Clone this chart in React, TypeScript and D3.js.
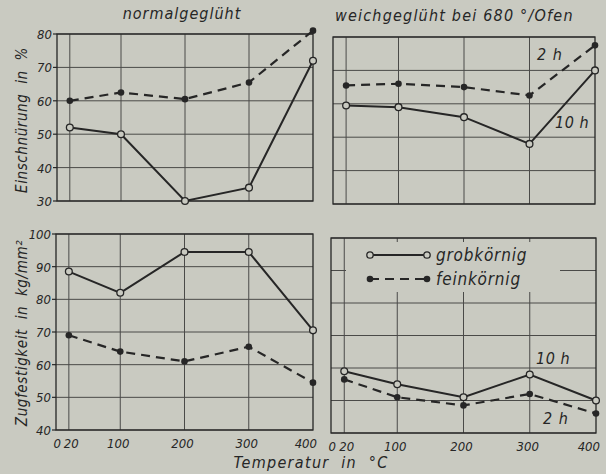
import React from 'react'
import * as d3 from 'd3'

const temps = [20, 100, 200, 300, 400]
const xTickLabels = ['0', '20', '100', '200', '300', '400']

// Einschnürung in %
const einGrobNormal = [52, 50, 30, 34, 72]
const einFeinNormal = [60, 62.5, 60.5, 65.5, 81]
const einGrobWeich = [59.5, 59, 56, 48, 70]
const einFeinWeich = [65.5, 66, 65, 62.5, 77.5]
const einTicks = [30, 40, 50, 60, 70, 80]

// Zugfestigkeit in kg/mm²
const zugGrobNormal = [88.5, 82, 94.5, 94.5, 70.5]
const zugFeinNormal = [69, 64, 61, 65.5, 54.5]
const zugGrobWeich = [59, 55, 51, 58, 50]
const zugFeinWeich = [56.5, 51, 48.5, 52, 46]
const zugTicks = [40, 50, 60, 70, 80, 90, 100]

const BG = '#c9cac1'
const INK = '#262626'
const GRID = '#4a4a48'
const FONT = '"DejaVu Sans Condensed", "DejaVu Sans", sans-serif'

type PanelProps = {
  x0: number; x1: number; yTop: number; yBot: number
  ticks: number[]
  grob: number[]; fein: number[]
  yLabels?: boolean
  xLabels?: boolean
  children?: React.ReactNode
}

function Panel({ x0, x1, yTop, yBot, ticks, grob, fein, yLabels, xLabels, children }: PanelProps) {
  const x = d3.scaleLinear().domain([0, 400]).range([x0, x1])
  const y = d3.scaleLinear().domain(d3.extent(ticks) as [number, number]).range([yBot, yTop])
  const line = d3.line<number>().x((_, i) => x(temps[i])).y(d => y(d))

  return (
    <g>
      {/* grid */}
      {ticks.map(t => (
        <line key={'h' + t} x1={x0} x2={x1} y1={y(t)} y2={y(t)} stroke={GRID} strokeWidth={1} />
      ))}
      {temps.slice(0, 4).map(t => (
        <line key={'v' + t} x1={x(t)} x2={x(t)} y1={yTop} y2={yBot} stroke={GRID} strokeWidth={1} />
      ))}
      <rect x={x0} y={yTop} width={x1 - x0} height={yBot - yTop} fill="none" stroke={INK} strokeWidth={1.3} />
      {children}

      {yLabels && ticks.map(t => (
        <g key={'yl' + t}>
          <line x1={x0 - 4} x2={x0} y1={y(t)} y2={y(t)} stroke={INK} strokeWidth={1.2} />
          <text x={x0 - 5} y={y(t) + 5} textAnchor="end" fontSize={13} fontStyle="italic"
            fontFamily={FONT} fill={INK}>{t}</text>
        </g>
      ))}

      {xLabels && xTickLabels.map(l => {
        const v = +l
        let px = x(v) - 2
        let anchor = 'middle'
        if (l === '0') { px = x(0) + 5; anchor = 'end' }
        else if (l === '20') { px = x(20) - 5; anchor = 'start' }
        else if (l === '400') { px = x1 + 4; anchor = 'end' }
        return (
          <text key={'xl' + l} x={px} y={yBot + 18} textAnchor={anchor} fontSize={13} fontStyle="italic"
            fontFamily={FONT} fill={INK}>{l}</text>
        )
      })}

      {/* lines */}
      <path d={line(fein) ?? ''} fill="none" stroke={INK} strokeWidth={2.2} strokeDasharray="9 6" />
      <path d={line(grob) ?? ''} fill="none" stroke={INK} strokeWidth={2} />
      {fein.map((d, i) => (
        <circle key={'f' + i} cx={x(temps[i])} cy={y(d)} r={3.3} fill={INK} />
      ))}
      {grob.map((d, i) => (
        <circle key={'g' + i} cx={x(temps[i])} cy={y(d)} r={3.4} fill={BG} stroke={INK} strokeWidth={1.3} />
      ))}
    </g>
  )
}

const txt = (s: string, px: number, py: number, size = 14, anchor = 'start', spacing = 0) => (
  <text x={px} y={py} textAnchor={anchor} fontSize={size} fontStyle="italic" fontFamily={FONT}
    letterSpacing={spacing} fill={INK} style={{ whiteSpace: 'pre' }}>{s}</text>
)

export default function App() {
  return (
    <svg width={606} height={474} style={{ position: 'absolute', left: 0, top: 0, background: BG }}>
      <rect width={606} height={474} fill={BG} />

      {txt('normalgeglüht', 182, 19, 16, 'middle', 1)}
      {txt('weichgeglüht bei 680 °/Ofen', 335, 21, 16, 'start', 1.2)}

      <Panel x0={57} x1={313} yTop={34} yBot={201} ticks={einTicks}
        grob={einGrobNormal} fein={einFeinNormal} yLabels />
      <Panel x0={333} x1={595} yTop={37} yBot={204} ticks={einTicks}
        grob={einGrobWeich} fein={einFeinWeich}>
        {txt('2 h', 537, 60, 16, 'start', 1)}
        {txt('10 h', 555, 128, 16, 'start', 0.5)}
      </Panel>

      <Panel x0={56} x1={313} yTop={234} yBot={430} ticks={zugTicks}
        grob={zugGrobNormal} fein={zugFeinNormal} yLabels xLabels />
      <Panel x0={331} x1={596} yTop={238} yBot={433} ticks={zugTicks}
        grob={zugGrobWeich} fein={zugFeinWeich} xLabels>
        <rect x={346} y={242} width={214} height={50} fill={BG} />
        <line x1={370} x2={427} y1={255} y2={255} stroke={INK} strokeWidth={2} />
        <circle cx={370} cy={255} r={3.2} fill={BG} stroke={INK} strokeWidth={1.3} />
        <circle cx={427} cy={255} r={3.2} fill={BG} stroke={INK} strokeWidth={1.3} />
        {txt('grobkörnig', 436, 261, 17, 'start', 0.8)}
        <line x1={370} x2={427} y1={279} y2={279} stroke={INK} strokeWidth={2.2} strokeDasharray="9 6" />
        <circle cx={370} cy={279} r={3.3} fill={INK} />
        <circle cx={427} cy={279} r={3.3} fill={INK} />
        {txt('feinkörnig', 436, 285, 17, 'start', 0.8)}
        {txt('10 h', 536, 364, 16, 'start', 0.5)}
        {txt('2 h', 543, 424, 16, 'start', 1)}
      </Panel>

      <text transform="translate(27,120) rotate(-90)" textAnchor="middle" fontSize={15} fontStyle="italic"
        fontFamily={FONT} letterSpacing={0.6} fill={INK} style={{ whiteSpace: 'pre' }}>Einschnürung  in  %</text>
      <text transform="translate(27,333) rotate(-90)" textAnchor="middle" fontSize={15} fontStyle="italic"
        fontFamily={FONT} letterSpacing={0.6} fill={INK} style={{ whiteSpace: 'pre' }}>Zugfestigkeit  in  kg/mm²</text>

      {txt('Temperatur  in  °C', 311, 468, 16, 'middle', 1.3)}
    </svg>
  )
}
